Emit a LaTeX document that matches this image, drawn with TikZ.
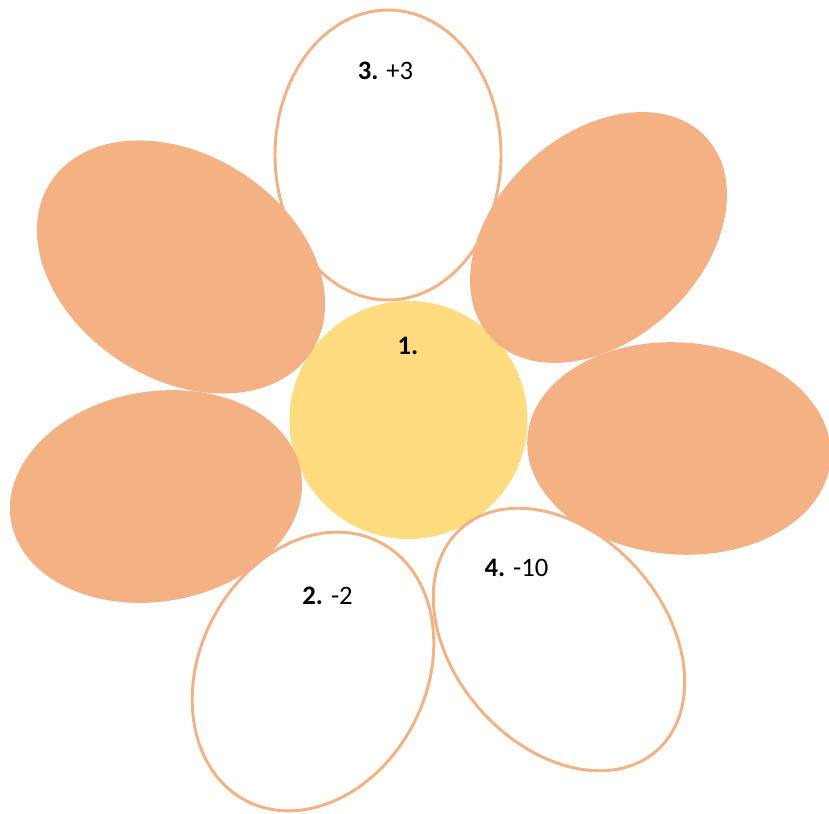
\documentclass[tikz,border=0pt]{standalone}
\usepackage{fontspec}
\setmainfont{Carlito}
\definecolor{petalorange}{HTML}{F4B183}
\definecolor{centeryellow}{HTML}{FFDC7F}
\begin{document}
\begin{tikzpicture}[x=0.75pt,y=0.75pt,
  petal/.style={fill=petalorange},
  openpetal/.style={fill=white,draw=petalorange,line width=2.2pt},
  lbl/.style={font=\fontsize{20}{24}\selectfont,inner sep=0pt,text=black}]
\useasboundingbox (0,0) rectangle (829,814);
% centre
\fill[centeryellow] (408.5,394) circle [radius=119];
% top open petal
\draw[openpetal] (388,659) ellipse [x radius=113,y radius=145];
% lower right open petal
\draw[openpetal, rotate around={-48.8:(559,174.5)}] (559,174.5) ellipse [x radius=148,y radius=105.5];
% filled petals
\fill[petal, rotate around={-33:(181,547)}] (181,547) ellipse [x radius=155.6,y radius=112];
\fill[petal, rotate around={43:(598.5,576.5)}] (598.5,576.5) ellipse [x radius=147,y radius=103];
\fill[petal, rotate around={-4:(679,365.5)}] (679,365.5) ellipse [x radius=152,y radius=106];
\fill[petal, rotate around={9.5:(156,317.5)}] (156,317.5) ellipse [x radius=147,y radius=105];
% lower left open petal
\draw[openpetal, rotate around={62.7:(313,142.5)}] (313,142.5) ellipse [x radius=145.5,y radius=113.3];
% labels
\node[lbl] (l1) at (408,468) {\textbf{1.}};
\node[lbl] (l3) at (385.5,743.5) {\textbf{3.} +3};
\node[lbl] (l2) at (327.5,218) {\textbf{2.} -2};
\node[lbl] (l4) at (516.5,246.5) {\textbf{4.} -10};
\end{tikzpicture}
\end{document}
